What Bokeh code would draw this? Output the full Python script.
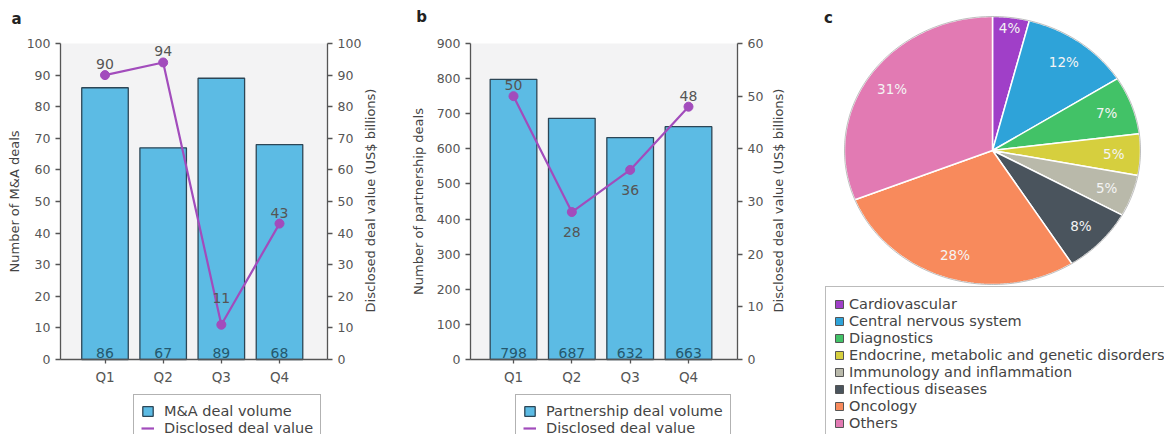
import math
import numpy as np
from bokeh.plotting import figure
from bokeh.layouts import row
from bokeh.core.properties import value
from bokeh.models import (Range1d, LinearAxis, SingleIntervalTicker, FixedTicker,
                          ColumnDataSource, Legend, LegendItem, Label, LabelSet,
                          BoxAnnotation)
from bokeh.embed import file_html
from bokeh.resources import INLINE

# ---------------- data ----------------
quarters = ["Q1", "Q2", "Q3", "Q4"]
ma_volume = [86, 67, 89, 68]
ma_value = [90, 94, 11, 43]
partner_volume = [798, 687, 632, 663]
partner_value = [50, 28, 36, 48]
areas = ["Cardiovascular", "Central nervous system", "Diagnostics",
         "Endocrine, metabolic and genetic disorders", "Immunology and inflammation",
         "Infectious diseases", "Oncology", "Others"]
area_share = [4, 12, 7, 5, 5, 8, 28, 31]

# ---------------- styles ----------------
FONT = "DejaVu Sans"
BAR_FILL = "#5cbbe4"
BAR_LINE = "#2c4656"
BAR_TEXT = "#24586e"
LINE_COL = "#a24cbc"
AX_COL = "#555555"
TXT_COL = "#555555"
BG = "#f3f3f4"
PIE_COLS = ["#a03fc8", "#2ea3d9", "#42c267", "#d6cf3e", "#b9b9aa",
            "#4a545d", "#f88a5c", "#e27ab3"]
H = 434
Y0_PX, YTOP_PX = 359, 43   # pixel rows of the axis zero and top
LABEL_OFFSETS = {"above": 6, "high": 22, "below": -25}


def px_val(px, p0, v0, p1, v1):
    return v0 + (px - p0) * (v1 - v0) / (p1 - p0)


def bar_panel(letter, vol, val, left_max, left_int, right_max, right_int,
              left_label, vol_label, W, q1_px, q4_px, axl_px, axr_px,
              label_sides, letter_pos, legend_x, rlabel_x, ylab_standoff):
    n = len(quarters)
    xpos = list(range(1, n + 1))
    xv = lambda px: px_val(px, q1_px, 1, q4_px, n)
    src = ColumnDataSource(dict(x=xpos, vol=vol, val=val,
                                vol_txt=[str(v) for v in vol],
                                val_txt=[str(v) for v in val],
                                off=[LABEL_OFFSETS[s] for s in label_sides]))
    p = figure(width=W, height=H, output_backend="svg", toolbar_location=None,
               title=None,
               x_range=Range1d(xv(0), xv(W)),
               y_range=Range1d(px_val(H, Y0_PX, 0, YTOP_PX, left_max),
                               px_val(0, Y0_PX, 0, YTOP_PX, left_max)),
               min_border=0)
    p.background_fill_color = "white"
    p.border_fill_color = "white"
    p.outline_line_color = None
    p.grid.visible = False
    p.extra_y_ranges = {"val": Range1d(px_val(H, Y0_PX, 0, YTOP_PX, right_max),
                                       px_val(0, Y0_PX, 0, YTOP_PX, right_max))}

    p.add_layout(BoxAnnotation(left=xv(axl_px), right=xv(axr_px), bottom=0,
                               top=left_max, fill_color=BG, fill_alpha=1,
                               line_color=None, level="underlay"))

    bars = p.vbar(x="x", top="vol", width=0.8, source=src, fill_color=BAR_FILL,
                  line_color=BAR_LINE, line_width=1.3)
    line = p.line(x="x", y="val", source=src, y_range_name="val",
                  line_color=LINE_COL, line_width=2.2)
    p.scatter(x="x", y="val", source=src, y_range_name="val", size=9,
              fill_color=LINE_COL, line_color=LINE_COL)

    p.add_layout(LabelSet(x="x", y=0, text="vol_txt", source=src, y_offset=2,
                          text_align="center", text_baseline="bottom",
                          text_font=value(FONT), text_font_size="14px",
                          text_color=BAR_TEXT))
    p.add_layout(LabelSet(x="x", y="val", text="val_txt", source=src,
                          y_range_name="val", y_offset="off",
                          text_align="center", text_baseline="bottom",
                          text_font=value(FONT), text_font_size="14px",
                          text_color=TXT_COL))

    def style(ax):
        ax.axis_line_color = AX_COL
        ax.axis_line_width = 1.3
        ax.major_tick_line_color = AX_COL
        ax.major_tick_line_width = 1.3
        ax.major_tick_out = 5
        ax.major_tick_in = 0
        ax.minor_tick_line_color = None
        ax.major_label_text_font = FONT
        ax.major_label_text_font_size = "12.5px"
        ax.major_label_text_color = TXT_COL
        ax.axis_label_text_font = FONT
        ax.axis_label_text_font_style = "normal"
        ax.axis_label_text_color = "#444444"

    ly = p.yaxis[0]
    ly.ticker = SingleIntervalTicker(interval=left_int)
    ly.fixed_location = xv(axl_px)
    ly.bounds = (0, left_max)
    ly.axis_label = left_label
    ly.axis_label_text_font_size = "13px"
    ly.major_label_standoff = 5
    ly.axis_label_standoff = ylab_standoff
    style(ly)

    ry = LinearAxis(y_range_name="val", ticker=SingleIntervalTicker(interval=right_int))
    style(ry)
    ry.fixed_location = xv(axr_px)
    ry.bounds = (0, right_max)
    ry.major_label_standoff = 5
    p.add_layout(ry, "right")
    p.add_layout(Label(x=rlabel_x, y=H - 200, x_units="screen", y_units="screen",
                       text="Disclosed deal value (US$ billions)", angle=math.pi / 2,
                       text_align="center", text_baseline="middle",
                       text_font=FONT, text_font_size="13px", text_color="#444444"))

    xa = p.xaxis[0]
    style(xa)
    xa.fixed_location = 0
    xa.bounds = (xv(axl_px), xv(axr_px))
    xa.ticker = FixedTicker(ticks=xpos)
    xa.major_label_overrides = {i: q for i, q in zip(xpos, quarters)}
    xa.major_label_text_font_size = "13.5px"
    xa.major_tick_out = 4
    xa.major_label_standoff = 5

    leg = Legend(items=[LegendItem(label=vol_label, renderers=[bars]),
                        LegendItem(label="Disclosed deal value", renderers=[line])],
                 location=(legend_x, H - (396 + 14 + 34)), orientation="vertical",
                 label_text_font=FONT, label_text_font_size="14.5px",
                 label_text_color="#444444", label_height=17, glyph_height=12,
                 glyph_width=13, label_standoff=10, spacing=0, padding=7, margin=0,
                 border_line_color="#666666", border_line_width=1.5,
                 background_fill_color="white", background_fill_alpha=1)
    p.add_layout(leg)

    p.add_layout(Label(x=letter_pos[0], y=H - letter_pos[1], x_units="screen",
                       y_units="screen", text=letter, text_font=FONT,
                       text_font_style="bold", text_font_size="15px",
                       text_color="#222222", text_align="center",
                       text_baseline="middle"))
    return p


WA, WB, WC = 404, 396, 364
pa = bar_panel("a", ma_volume, ma_value, 100, 10, 100, 10, "Number of M&A deals",
               "M&A deal volume", WA, 104.5, 279, 60, 327,
               ["above", "above", "high", "above"], (16, 18), 133, 370, 2)
pb = bar_panel("b", partner_volume, partner_value, 900, 100, 60, 10,
               "Number of partnership deals", "Partnership deal volume", WB,
               513 - WA, 688 - WA, 470 - WA, 737 - WA,
               ["above", "below", "below", "above"], (17, 16), 515 - WA, 374, 8)

# ---------------- pie ----------------
CX, CY, RX, RY = 192, 150, 148, 134
pc = figure(width=WC, height=H, output_backend="svg", toolbar_location=None,
            title=None, x_axis_location=None, y_axis_location=None,
            x_range=Range1d(-CX / RX, (WC - CX) / RX),
            y_range=Range1d(-(H - CY) / RY, CY / RY),
            min_border=0)
pc.grid.visible = False
pc.outline_line_color = None
pc.background_fill_color = "white"

total = float(sum(area_share))
cum = np.concatenate([[0.0], np.cumsum(area_share)]) / total
xs, ys, lx, lyy, txt = [], [], [], [], []
for i, s in enumerate(area_share):
    a0 = cum[i] * 2 * math.pi
    a1 = cum[i + 1] * 2 * math.pi
    t = np.linspace(a0, a1, 80)
    xs.append(np.concatenate([[0.0], np.sin(t), [0.0]]))
    ys.append(np.concatenate([[0.0], np.cos(t), [0.0]]))
    am = (a0 + a1) / 2
    r = 0.92 if s < 5 else 0.82
    lx.append(r * math.sin(am))
    lyy.append(r * math.cos(am))
    txt.append(f"{s}%")

pie_src = ColumnDataSource(dict(xs=xs, ys=ys, color=PIE_COLS))
pc.patches(xs="xs", ys="ys", source=pie_src, fill_color="color",
           line_color="white", line_width=1.5)
tt = np.linspace(0, 2 * math.pi, 400)
pc.line(x=np.sin(tt), y=np.cos(tt), line_color="#777777", line_width=0.8, line_alpha=0.6)
lab_src = ColumnDataSource(dict(x=lx, y=lyy, t=txt))
pc.text(x="x", y="y", text="t", source=lab_src, text_align="center",
        text_baseline="middle", text_font=value(FONT), text_font_size="13.5px",
        text_color="#f4f4f4")

items = []
for name, col in zip(areas, PIE_COLS):
    r = pc.quad(left=[np.nan], right=[np.nan], bottom=[np.nan], top=[np.nan],
                fill_color=col, line_color="#555555", line_width=1)
    items.append(LegendItem(label=name, renderers=[r]))
pleg = Legend(items=items, location=(25, -6), orientation="vertical",
              label_text_font=FONT, label_text_font_size="14.5px",
              label_text_color="#444444", label_height=17, glyph_height=10,
              glyph_width=10, label_standoff=5, spacing=0, padding=8, margin=0,
              border_line_color="#777777", border_line_width=1.5,
              background_fill_color="white", background_fill_alpha=1)
pc.add_layout(pleg)
pc.add_layout(Label(x=28, y=H - 17, x_units="screen", y_units="screen", text="c",
                    text_font=FONT, text_font_style="bold", text_font_size="15px",
                    text_color="#222222", text_align="center", text_baseline="middle"))

layout = row(pa, pb, pc, spacing=0)
open("out.html", "w").write(file_html(layout, INLINE))
